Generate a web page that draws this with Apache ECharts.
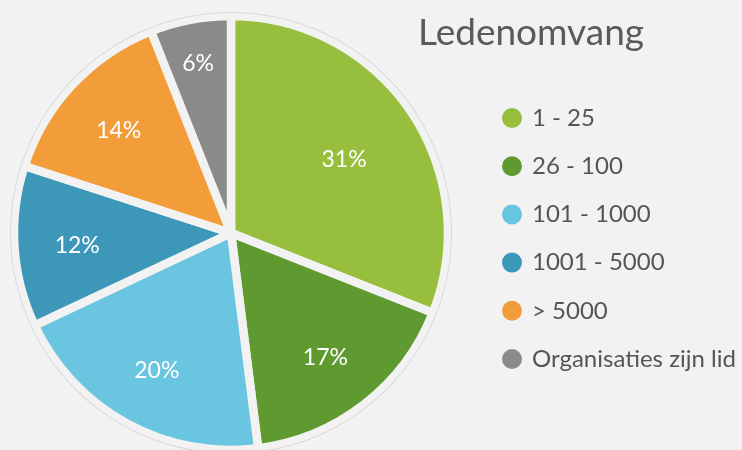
<!DOCTYPE html>
<html>
<head>
<meta charset="utf-8">
<script src="https://cdn.jsdelivr.net/npm/echarts@6/dist/echarts.min.js"></script>
<style>
html,body{margin:0;padding:0;background:#f2f2f2;}
#chart{width:742px;height:450px;}
</style>
</head>
<body>
<div id="chart"></div>
<script>
const title = 'Ledenomvang';
const categories = ['1 - 25', '26 - 100', '101 - 1000', '1001 - 5000', '> 5000', 'Organisaties zijn lid'];
const values = [31, 17, 20, 12, 14, 6];
const colors = ['#97be3c', '#5e9a2f', '#6ac5e0', '#3d97b8', '#f39c3a', '#8a8a8a'];
// label distance from centre as a fraction of the radius (Excel "best fit")
const labelFrac = [0.63, 0.71, 0.71, 0.71, 0.71, 0.81];

const CX = 231, CY = 233, R = 217;
const chart = echarts.init(document.getElementById('chart'));
const bg = '#f2f2f2';

chart.setOption({
  backgroundColor: bg,
  animation: false,
  title: {
    text: title,
    left: 413, top: 10,
    textStyle: { fontFamily: 'Lato', fontWeight: 'normal', fontSize: 37, color: '#5a5a5a' }
  },
  legend: {
    orient: 'vertical',
    left: 500, top: 106,
    padding: 0,
    icon: 'circle',
    itemWidth: 22, itemHeight: 22, itemGap: 24.2,
    data: categories,
    textStyle: { fontFamily: 'Lato', fontSize: 24, lineHeight: 22, color: '#555555', padding: [0, 0, 0, 4] }
  },
  series: [
    {
      type: 'pie',
      center: [CX, CY],
      radius: [0, R],
      startAngle: 90,
      clockwise: true,
      silent: true,
      itemStyle: { borderColor: bg, borderWidth: 8.5 },
      label: {
        show: true,
        position: 'inside',
        formatter: '{d}%',
        fontFamily: 'Lato',
        fontSize: 23,
        color: '#ffffff'
      },
      labelLine: { show: false },
      labelLayout: function (p) {
        const r = p.labelRect;
        const lx = r.x + r.width / 2, ly = r.y + r.height / 2;
        const vx = lx - CX, vy = ly - CY;
        const d = Math.sqrt(vx * vx + vy * vy) || 1;
        const target = labelFrac[p.dataIndex] * R;
        return { dx: vx / d * (target - d), dy: vy / d * (target - d) + 3 };
      },
      data: categories.map((c, i) => ({ name: c, value: values[i], itemStyle: { color: colors[i] } }))
    },
    {
      type: 'pie',
      center: [CX, CY],
      radius: [220, 221],
      silent: true,
      label: { show: false },
      labelLine: { show: false },
      itemStyle: { color: '#d9d9d9' },
      data: [{ name: '', value: 1 }],
      z: 3
    }
  ]
});
</script>
</body>
</html>
